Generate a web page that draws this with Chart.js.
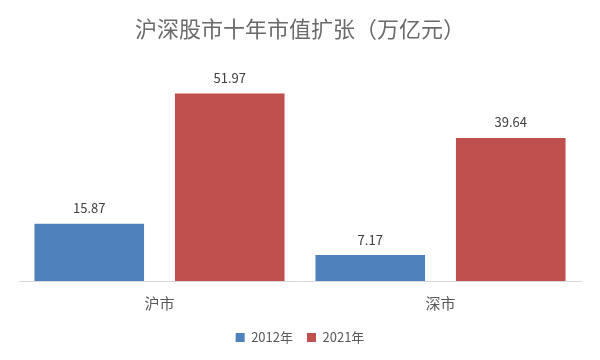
<!DOCTYPE html>
<html>
<head>
<meta charset="utf-8">
<script src="https://cdn.jsdelivr.net/npm/chart.js@4"></script>
<style>
  html, body { margin: 0; padding: 0; background: #fff; }
  #wrap { width: 600px; height: 360px; }
</style>
</head>
<body>
<div id="wrap"><canvas id="bar-chart"></canvas></div>
<script>
var markets = ["沪市", "深市"];
var years = ["2012年", "2021年"];
var values2012 = [15.87, 7.17];
var values2021 = [51.97, 39.64];

var font = "'Noto Sans CJK SC', 'Noto Sans', sans-serif";

// draws the value above each bar
var valueLabels = {
  id: "valueLabels",
  afterDatasetsDraw: function(chart) {
    var ctx = chart.ctx;
    ctx.save();
    ctx.font = "13px " + font;
    ctx.fillStyle = "#404040";
    ctx.textAlign = "center";
    ctx.textBaseline = "bottom";
    chart.data.datasets.forEach(function(ds, i) {
      chart.getDatasetMeta(i).data.forEach(function(bar, j) {
        ctx.fillText(ds.data[j].toFixed(2), bar.x, bar.y - 9);
      });
    });
    ctx.restore();
  }
};

new Chart(document.getElementById("bar-chart"), {
  type: "bar",
  data: {
    labels: markets,
    datasets: [
      { label: years[0], data: values2012, backgroundColor: "#4f81bd" },
      { label: years[1], data: values2021, backgroundColor: "#c0504d" }
    ]
  },
  options: {
    responsive: true,
    maintainAspectRatio: false,
    animation: false,
    categoryPercentage: 1.0,
    barPercentage: 0.78,
    layout: { padding: { left: 19, right: 19, top: 15, bottom: 6 } },
    scales: {
      x: {
        grid: { display: false },
        border: { color: "#d9d9d9" },
        ticks: { color: "#595959", font: { family: font, size: 15 }, padding: 5 }
      },
      y: { display: false, min: 0, max: 60 }
    },
    plugins: {
      title: {
        display: true,
        text: "沪深股市十年市值扩张（万亿元）",
        color: "#6a6a6a",
        font: { family: font, size: 22, weight: "normal" },
        padding: { top: 0, bottom: 23 }
      },
      legend: {
        position: "bottom",
        labels: {
          color: "#595959",
          font: { family: font, size: 13 },
          boxWidth: 9,
          boxHeight: 9,
          padding: 14
        }
      },
      tooltip: { enabled: false }
    }
  },
  plugins: [valueLabels]
});
</script>
</body>
</html>
